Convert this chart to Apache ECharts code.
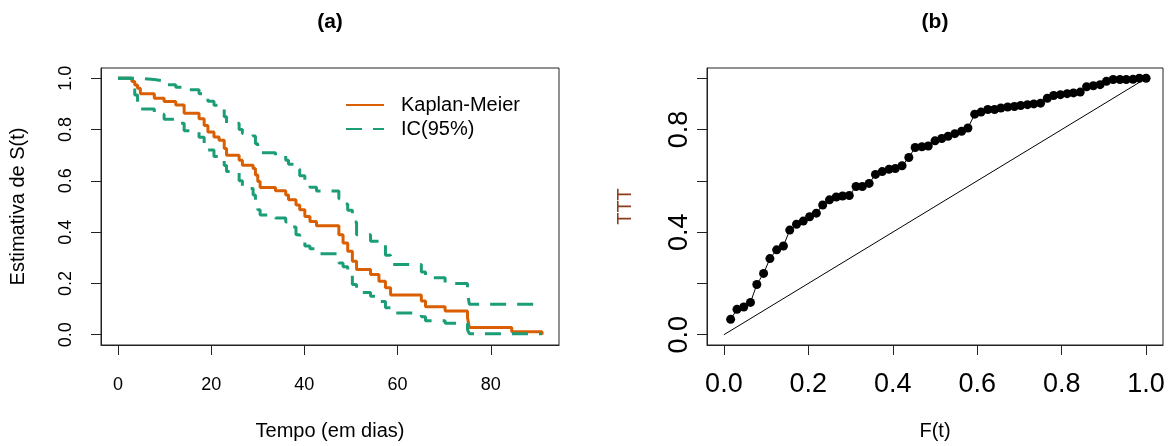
<!DOCTYPE html>
<html>
<head>
<meta charset="utf-8">
<script src="https://cdn.jsdelivr.net/npm/echarts@6/dist/echarts.min.js"></script>
<style>html,body{margin:0;padding:0;background:#fff}#c{width:1168px;height:446px}</style>
</head>
<body>
<div id="c"></div>
<script>
// ---------- Panel (a): Kaplan-Meier ----------
const kmTime = [0, 3.0, 3.6, 4.2, 4.8, 7.8, 9.9, 12.4, 14.2, 17.4, 18.5, 19.3, 20.6, 21.7, 22.8, 23.3, 26.0, 26.7, 29.0, 29.5, 30.0, 30.5, 33.8, 36.0, 36.6, 38.2, 39.0, 40.1, 41.2, 42.6, 47.4, 48.3, 49.3, 50.3, 51.2, 54.2, 56.0, 57.4, 58.5, 65.1, 66.0, 70.2, 75.0, 75.4, 84.5, 91.0];
const kmSurv = [1.000, 0.987, 0.974, 0.961, 0.940, 0.922, 0.909, 0.896, 0.864, 0.842, 0.816, 0.790, 0.771, 0.758, 0.726, 0.700, 0.680, 0.661, 0.648, 0.623, 0.597, 0.574, 0.561, 0.545, 0.526, 0.506, 0.487, 0.461, 0.442, 0.425, 0.390, 0.358, 0.326, 0.287, 0.254, 0.235, 0.209, 0.183, 0.155, 0.132, 0.109, 0.093, 0.067, 0.028, 0.012, 0.000];
const ciUpper = [1.000, 1.000, 1.000, 1.000, 0.995, 0.990, 0.975, 0.965, 0.955, 0.940, 0.930, 0.910, 0.895, 0.880, 0.850, 0.825, 0.800, 0.785, 0.775, 0.745, 0.725, 0.710, 0.700, 0.680, 0.665, 0.645, 0.620, 0.595, 0.575, 0.560, 0.530, 0.510, 0.485, 0.440, 0.390, 0.365, 0.350, 0.310, 0.274, 0.245, 0.222, 0.200, 0.164, 0.119, 0.119, null];
const ciLower = [1.000, 0.962, 0.935, 0.908, 0.880, 0.860, 0.840, 0.825, 0.795, 0.770, 0.745, 0.720, 0.695, 0.680, 0.660, 0.636, 0.600, 0.570, 0.545, 0.506, 0.487, 0.467, 0.455, 0.440, 0.420, 0.390, 0.370, 0.346, 0.335, 0.316, 0.280, 0.265, 0.245, 0.196, 0.165, 0.150, 0.130, 0.105, 0.085, 0.070, 0.055, 0.045, 0.020, 0.004, 0.004, null];
const xTicksA = [0, 20, 40, 60, 80];
const yTicksA = [0, 0.2, 0.4, 0.6, 0.8, 1.0];

// ---------- Panel (b): TTT plot ----------
const tttF = [0.016, 0.031, 0.047, 0.063, 0.078, 0.094, 0.109, 0.125, 0.141, 0.156, 0.172, 0.188, 0.203, 0.219, 0.234, 0.250, 0.266, 0.281, 0.297, 0.313, 0.328, 0.344, 0.359, 0.375, 0.391, 0.406, 0.422, 0.438, 0.453, 0.469, 0.484, 0.500, 0.516, 0.531, 0.547, 0.563, 0.578, 0.594, 0.609, 0.625, 0.641, 0.656, 0.672, 0.688, 0.703, 0.719, 0.734, 0.750, 0.766, 0.781, 0.797, 0.813, 0.828, 0.844, 0.859, 0.875, 0.891, 0.906, 0.922, 0.938, 0.953, 0.969, 0.984, 1.000];
const tttT = [0.060, 0.099, 0.108, 0.126, 0.196, 0.239, 0.297, 0.331, 0.346, 0.408, 0.431, 0.443, 0.460, 0.474, 0.506, 0.526, 0.537, 0.541, 0.543, 0.578, 0.578, 0.590, 0.625, 0.636, 0.645, 0.648, 0.659, 0.691, 0.730, 0.733, 0.736, 0.756, 0.765, 0.774, 0.784, 0.793, 0.806, 0.860, 0.868, 0.878, 0.878, 0.884, 0.888, 0.890, 0.894, 0.897, 0.900, 0.903, 0.922, 0.933, 0.936, 0.940, 0.943, 0.946, 0.967, 0.971, 0.975, 0.988, 0.995, 0.995, 0.995, 0.996, 1.000, 1.000];
const diagX = [0, 1];
const diagY = [0, 1];
const xTicksB = [0, 0.2, 0.4, 0.6, 0.8, 1.0];
const yTicksB = [0, 0.2, 0.4, 0.6, 0.8, 1.0];
const yLabelsB = [0, 0.4, 0.8];

const FF = "'Liberation Sans', Arial, sans-serif";
const ORANGE = '#D95F02', GREEN = '#1B9E77', AX = '#222';
const pairs = (xs, ys) => xs.map((x, i) => [x, ys[i]]);

const baseAxis = (extra) => Object.assign({
  type: 'value',
  axisLine: { show: true, onZero: false, lineStyle: { color: AX, width: 1 } },
  splitLine: { show: false },
}, extra);

const chart = echarts.init(document.getElementById('c'), null, { renderer: 'canvas' });
chart.setOption({
  animation: false,
  backgroundColor: '#fff',
  textStyle: { fontFamily: FF },
  grid: [
    { left: 101, top: 68, width: 458, height: 281, show: true, borderColor: AX, borderWidth: 1 },
    { left: 707, top: 68, width: 456, height: 281, show: true, borderColor: AX, borderWidth: 1 }
  ],
  graphic: [
    { type: 'text', x: 330, y: 22, style: { text: '(a)', font: 'bold 21px ' + FF, fill: '#000', align: 'center', verticalAlign: 'middle', textAlign: 'center', textVerticalAlign: 'middle' } },
    { type: 'text', x: 935, y: 22, style: { text: '(b)', font: 'bold 21px ' + FF, fill: '#000', align: 'center', verticalAlign: 'middle', textAlign: 'center', textVerticalAlign: 'middle' } }
  ],
  legend: {
    data: ['Kaplan-Meier', 'IC(95%)'],
    orient: 'vertical', left: 340, top: 90,
    itemWidth: 38, itemHeight: 14, itemGap: 4,
    itemStyle: { opacity: 0 },
    textStyle: { fontSize: 20, color: '#000', fontFamily: FF, padding: [0, 0, 0, 12] }
  },
  xAxis: [
    baseAxis({
      gridIndex: 0, min: -3.64, max: 94.64,
      axisTick: { show: true, length: 10, lineStyle: { color: AX }, customValues: xTicksA },
      axisLabel: { customValues: xTicksA, fontSize: 18, color: '#000', margin: 31, fontFamily: FF },
      name: 'Tempo (em dias)', nameLocation: 'middle', nameGap: 76,
      nameTextStyle: { fontSize: 20, color: '#000', fontFamily: FF }
    }),
    baseAxis({
      gridIndex: 1, min: -0.04, max: 1.04,
      axisTick: { show: true, length: 10, lineStyle: { color: AX }, customValues: xTicksB },
      axisLabel: { customValues: xTicksB, fontSize: 27, color: '#000', margin: 26, fontFamily: FF, formatter: v => v.toFixed(1) },
      name: 'F(t)', nameLocation: 'middle', nameGap: 76,
      nameTextStyle: { fontSize: 20, color: '#000', fontFamily: FF }
    })
  ],
  yAxis: [
    baseAxis({
      gridIndex: 0, min: -0.04, max: 1.04,
      axisTick: { show: true, length: 10, lineStyle: { color: AX }, customValues: yTicksA },
      axisLabel: { customValues: yTicksA, rotate: 90, fontSize: 18, color: '#000', margin: 26, fontFamily: FF, formatter: v => v.toFixed(1) },
      name: 'Estimativa de S(t)', nameLocation: 'middle', nameGap: 73,
      nameTextStyle: { fontSize: 20, color: '#000', fontFamily: FF }
    }),
    baseAxis({
      gridIndex: 1, min: -0.04, max: 1.04,
      axisTick: { show: true, length: 10, lineStyle: { color: AX }, customValues: yTicksB },
      axisLabel: { customValues: yLabelsB, rotate: 90, fontSize: 27, color: '#000', margin: 14, fontFamily: FF, formatter: v => v.toFixed(1) },
      name: 'TTT', nameLocation: 'middle', nameGap: 72,
      nameTextStyle: { fontSize: 20, color: '#8b3e1e', fontFamily: FF }
    })
  ],
  series: [
    { name: 'Kaplan-Meier', type: 'line', xAxisIndex: 0, yAxisIndex: 0, step: 'end', symbol: 'none', showSymbol: false,
      data: pairs(kmTime, kmSurv), lineStyle: { color: ORANGE, width: 3 }, itemStyle: { color: ORANGE } },
    { name: 'IC(95%)', type: 'line', xAxisIndex: 0, yAxisIndex: 0, step: 'end', symbol: 'none', showSymbol: false,
      data: pairs(kmTime, ciUpper), lineStyle: { color: GREEN, width: 3, type: [16, 11] }, itemStyle: { color: GREEN } },
    { name: 'IC(95%)', type: 'line', xAxisIndex: 0, yAxisIndex: 0, step: 'end', symbol: 'none', showSymbol: false,
      data: pairs(kmTime, ciLower), lineStyle: { color: GREEN, width: 3, type: [16, 11] }, itemStyle: { color: GREEN } },
    { name: 'diag', type: 'line', xAxisIndex: 1, yAxisIndex: 1, symbol: 'none', showSymbol: false,
      data: pairs(diagX, diagY), lineStyle: { color: '#000', width: 1 } },
    { name: 'TTT', type: 'line', xAxisIndex: 1, yAxisIndex: 1, symbol: 'circle', symbolSize: 9, showSymbol: true,
      data: pairs(tttF, tttT), lineStyle: { color: '#000', width: 1 }, itemStyle: { color: '#000' } }
  ]
});
</script>
</body>
</html>
